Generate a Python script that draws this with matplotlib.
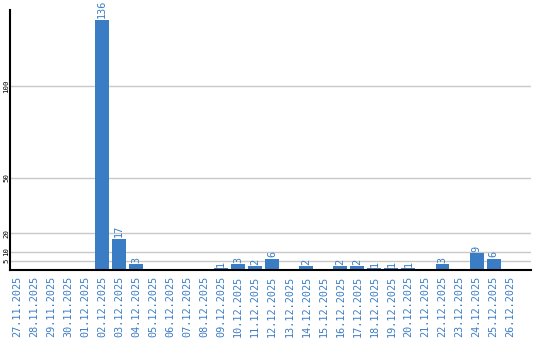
import matplotlib
matplotlib.use("Agg")
import matplotlib.pyplot as plt

dates = ["27.11.2025", "28.11.2025", "29.11.2025", "30.11.2025", "01.12.2025",
         "02.12.2025", "03.12.2025", "04.12.2025", "05.12.2025", "06.12.2025",
         "07.12.2025", "08.12.2025", "09.12.2025", "10.12.2025", "11.12.2025",
         "12.12.2025", "13.12.2025", "14.12.2025", "15.12.2025", "16.12.2025",
         "17.12.2025", "18.12.2025", "19.12.2025", "20.12.2025", "21.12.2025",
         "22.12.2025", "23.12.2025", "24.12.2025", "25.12.2025", "26.12.2025"]
counts = [0, 0, 0, 0, 0, 136, 17, 3, 0, 0, 0, 0, 1, 3, 2, 6, 0, 2, 0, 2,
          2, 1, 1, 1, 0, 3, 0, 9, 6, 0]
yticks = [5, 10, 20, 50, 100]

blue = "#3b7dc4"
W, H = 540, 340
fig = plt.figure(figsize=(W / 100, H / 100), dpi=100)
ax = fig.add_axes([10 / W, (H - 270) / H, 521 / W, 260 / H])

x = list(range(len(dates)))
ax.bar(x, counts, width=0.82, color=blue, zorder=3)
for xi, c in zip(x, counts):
    if c > 0:
        ax.text(xi, c + 0.8, str(c), rotation=90, ha="center", va="bottom",
                color=blue, fontsize=7.3, family="DejaVu Sans Mono", zorder=4)

ax.set_xlim(-0.41, 30.2)
ax.set_ylim(0, 141.3)
ax.set_yticks(yticks)
ax.set_yticklabels([str(t) for t in yticks], rotation=90, va="center",
                   fontsize=5.3, family="DejaVu Sans Mono")
ax.set_xticks(x)
ax.set_xticklabels(dates, rotation=90, fontsize=7.3, family="DejaVu Sans Mono",
                   color=blue, va="top")
ax.tick_params(axis="both", length=0)
ax.tick_params(axis="x", pad=4)
ax.tick_params(axis="y", pad=0.5)
ax.grid(axis="y", color="#c8c8c8", linewidth=1, zorder=0)
for s in ["top", "right"]:
    ax.spines[s].set_visible(False)
for s in ["left", "bottom"]:
    ax.spines[s].set_linewidth(1.5)
    ax.spines[s].set_color("black")
    ax.spines[s].set_zorder(5)

fig.savefig("out.png", dpi=100)
